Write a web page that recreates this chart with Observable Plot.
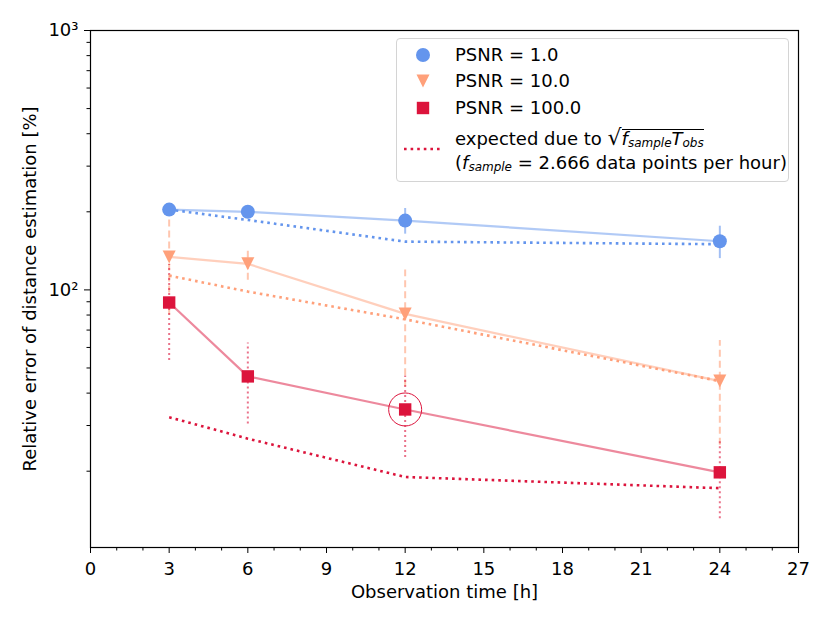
<!DOCTYPE html>
<html>
<head>
<meta charset="utf-8">
<script src="https://cdn.jsdelivr.net/npm/d3@7"></script>
<script src="https://cdn.jsdelivr.net/npm/@observablehq/plot@0.6"></script>
<style>
  html, body { margin: 0; padding: 0; background: #fff; }
  #wrap { position: relative; width: 830px; height: 623px; font-family: "DejaVu Sans", sans-serif; }
  #legend { position: absolute; left: 396px; top: 38px; width: 393px; height: 144px; box-sizing: border-box;
            border: 1px solid #d4d4d4; border-radius: 4px; background: rgba(255,255,255,0.85);
            font-size: 18px; color: #000; }
  #legend .item { position: absolute; left: 58px; white-space: nowrap; line-height: 1; }
  #legend svg { position: absolute; }
  #legend sub { font-size: 12px; vertical-align: -2px; font-style: italic; line-height: 0; }
  #legend i { font-style: italic; }
  .rad { border-top: 1px solid #000; padding-top: 2px; line-height: 0.8; display: inline-block; }
  .sq { font-size: 22px; line-height: 0; }
</style>
</head>
<body>
<div id="wrap">
  <div id="chart"></div>
  <div id="legend"></div>
</div>
<script>
// ---- data ----
const times = [3, 6, 12, 24];
const seriesNames = ["PSNR = 1.0", "PSNR = 10.0", "PSNR = 100.0"];
const seriesColors = ["#6495ED", "#FFA07A", "#DC143C"];
const psnr1 = [204, 200, 185, 154];
const psnr1Err = [4, 4, 21, 22];
const psnr10 = [134, 126, 80.8, 44.5];
const psnr10Err = [54, 17, 38.5, 19.3];
const psnr100 = [89.4, 46.4, 34.6, 19.8];
const psnr100Err = [36, 16, 12, 6.7];
const expected1 = [204, 186, 153.5, 150];
const expected10 = [113.5, 98.5, 77, 44.5];
const expected100 = [32.3, 26.7, 19, 17.2];
const highlightTime = [12];          // circled PSNR = 100.0 point
const xTicks = [0, 3, 6, 9, 12, 15, 18, 21, 24, 27];
const xMinorTicks = d3.range(0, 28).filter(d => d % 3 !== 0);
const yTicks = [100, 1000];
const yTickLabels = ["10²", "10³"];
const yMinorTicks = [20, 30, 40, 50, 60, 70, 80, 90, 200, 300, 400, 500, 600, 700, 800, 900];
const xLabel = "Observation time [h]";
const yLabel = "Relative error of distance estimation [%]";

const values = [psnr1, psnr10, psnr100];
const errors = [psnr1Err, psnr10Err, psnr100Err];
const expected = [expected1, expected10, expected100];
const dashes = [null, "7,4", "2,3"];

const series = values.map((vals, s) => times.map((t, i) => ({t, v: vals[i], err: errors[s][i], s})));
const expSeries = expected.map((vals, s) => times.map((t, i) => ({t, v: vals[i], s})));

const triangleDown = {
  draw(context, size) {
    const w = 1.05 * Math.sqrt(size);
    context.moveTo(-w / 2, -w / 2);
    context.lineTo(w / 2, -w / 2);
    context.lineTo(0, w / 2);
    context.closePath();
  }
};
const symbols = ["circle", triangleDown, "square"];

const marks = [];
series.forEach((rows, s) => {
  marks.push(Plot.ruleX(rows, {x: "t", y1: d => d.v - d.err, y2: d => d.v + d.err,
    stroke: seriesColors[s], strokeOpacity: 0.6, strokeWidth: 2, strokeDasharray: dashes[s]}));
});
series.forEach((rows, s) => {
  marks.push(Plot.line(rows, {x: "t", y: "v", stroke: seriesColors[s], strokeOpacity: 0.5, strokeWidth: 2.2}));
});
expSeries.forEach((rows, s) => {
  marks.push(Plot.line(rows, {x: "t", y: "v", stroke: seriesColors[s], strokeWidth: 2.6,
    strokeDasharray: "2.6,4", strokeLinecap: "butt"}));
});
series.forEach((rows, s) => {
  marks.push(Plot.dot(rows, {x: "t", y: "v", symbol: () => symbols[s], r: 7, fill: seriesColors[s], stroke: "none"}));
});
marks.push(Plot.dot(series[2].filter(d => highlightTime.includes(d.t)),
  {x: "t", y: "v", r: 16.5, fill: "none", stroke: seriesColors[2], strokeWidth: 1}));

const chart = Plot.plot({
  width: 830,
  height: 623,
  marginLeft: 90,
  marginRight: 32,
  marginTop: 30,
  marginBottom: 76,
  style: {fontFamily: "DejaVu Sans, sans-serif", fontSize: "18px", background: "white"},
  x: {domain: [0, 27]},
  y: {type: "log", domain: [10.16, 1000]},
  symbol: {type: "identity"},
  marks: [
    ...marks,
    Plot.axisX({ticks: xTicks, tickSize: 6, tickPadding: 8.5, tickFormat: d => String(d), fontSize: 18, label: null}),
    Plot.axisX({ticks: xMinorTicks, tickSize: 3.5, tickFormat: () => "", label: null}),
    Plot.axisY({ticks: yTicks, tickSize: 6, tickPadding: 6, tickFormat: d => yTickLabels[yTicks.indexOf(d)], fontSize: 18, label: null}),
    Plot.axisY({ticks: yMinorTicks, tickSize: 3.5, tickFormat: () => "", label: null}),
    Plot.frame({stroke: "black", strokeWidth: 1.2}),
    Plot.text([xLabel], {frameAnchor: "bottom", dy: 45, text: d => d, fontSize: 18, lineAnchor: "middle", textAnchor: "middle"}),
    Plot.text([yLabel], {frameAnchor: "left", dx: -60, text: d => d, rotate: -90, fontSize: 18, lineAnchor: "middle", textAnchor: "middle"})
  ]
});
document.getElementById("chart").appendChild(chart);

// ---- legend (inside axes, top-right) ----
const legend = document.getElementById("legend");
const rowY = [16, 42, 69];
seriesNames.forEach((name, s) => {
  const svg = d3.create("svg").attr("width", 20).attr("height", 20)
    .style("left", "15.7px").style("top", (rowY[s] - 10) + "px");
  const sym = typeof symbols[s] === "string" ? (symbols[s] === "circle" ? d3.symbolCircle : d3.symbolSquare) : symbols[s];
  svg.append("path").attr("transform", "translate(10,10)")
    .attr("d", d3.symbol(sym, Math.PI * 49)()).attr("fill", seriesColors[s]);
  legend.appendChild(svg.node());
  const div = document.createElement("div");
  div.className = "item";
  div.style.top = (rowY[s] - 8.7) + "px";
  div.textContent = name;
  legend.appendChild(div);
});
const ls = d3.create("svg").attr("width", 40).attr("height", 6).style("left", "6px").style("top", "107px");
ls.append("line").attr("x1", 1).attr("x2", 39).attr("y1", 3).attr("y2", 3)
  .attr("stroke", seriesColors[2]).attr("stroke-width", 2.6).attr("stroke-dasharray", "2.6,4");
legend.appendChild(ls.node());
const e1 = document.createElement("div");
e1.className = "item"; e1.style.top = "90px";
e1.innerHTML = 'expected due to <span class="sq">√</span><span class="rad"><i>f</i><sub>sample</sub><i>T</i><sub>obs</sub></span>';
legend.appendChild(e1);
const e2 = document.createElement("div");
e2.className = "item"; e2.style.top = "115px";
e2.innerHTML = '(<i>f</i><sub>sample</sub> = 2.666 data points per hour)';
legend.appendChild(e2);
</script>
</body>
</html>
